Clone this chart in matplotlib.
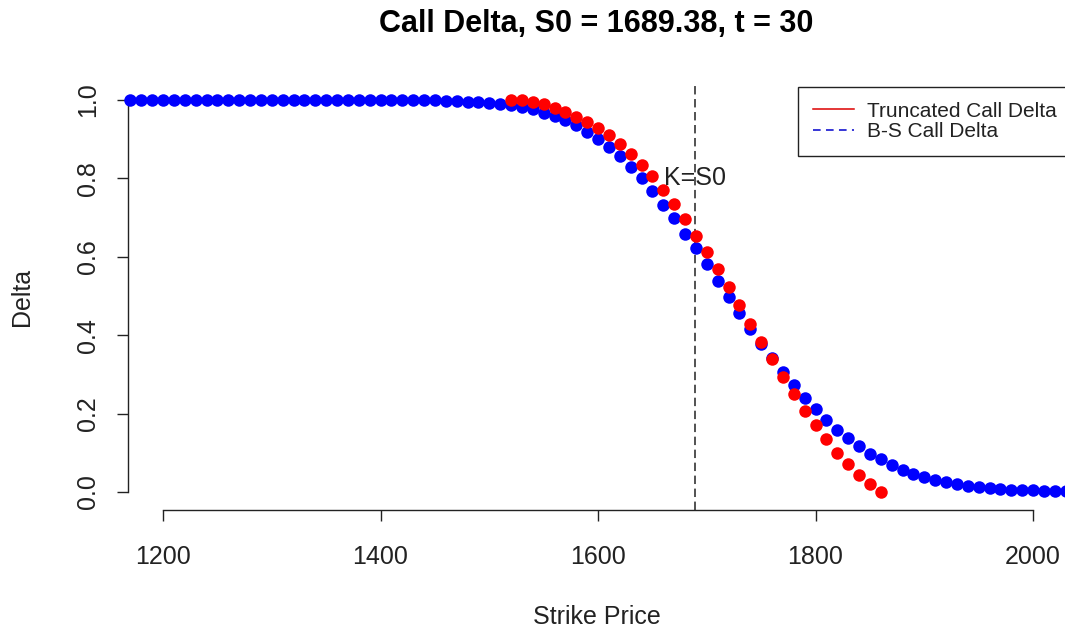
import matplotlib
matplotlib.use("Agg")
import matplotlib.pyplot as plt
from matplotlib.lines import Line2D

plt.rcParams['font.family'] = ['Liberation Sans', 'DejaVu Sans']

# ---- data ----
S0 = 1689.38
title = "Call Delta, S0 = 1689.38, t = 30"

bs_strikes = list(range(1170, 2031, 10))
bs_delta = [1.000] * 27 + [
    0.999, 0.999, 0.998, 0.997, 0.996, 0.995, 0.993, 0.990, 0.986, 0.982,
    0.976, 0.968, 0.959, 0.948, 0.935, 0.919, 0.901, 0.880, 0.856, 0.829,
    0.800, 0.769, 0.733, 0.698, 0.659, 0.622, 0.581, 0.539, 0.498, 0.457,
    0.416, 0.378, 0.341, 0.306, 0.273, 0.241, 0.211, 0.183, 0.158, 0.137,
    0.117, 0.097, 0.083, 0.068, 0.056, 0.047, 0.038, 0.031, 0.025, 0.020,
    0.016, 0.012, 0.010, 0.008, 0.006, 0.005, 0.004, 0.003, 0.002, 0.002,
]

tr_strikes = list(range(1520, 1861, 10))
tr_delta = [
    1.000, 0.999, 0.996, 0.989, 0.980, 0.969, 0.956, 0.943, 0.928, 0.910,
    0.887, 0.862, 0.835, 0.805, 0.770, 0.735, 0.696, 0.654, 0.613, 0.569,
    0.524, 0.476, 0.429, 0.382, 0.340, 0.294, 0.250, 0.207, 0.171, 0.134,
    0.100, 0.071, 0.043, 0.020, 0.000,
]

x_ticks = [1200, 1400, 1600, 1800, 2000]
y_ticks = [0.0, 0.2, 0.4, 0.6, 0.8, 1.0]
y_tick_labels = ["0.0", "0.2", "0.4", "0.6", "0.8", "1.0"]
legend_labels = ["Truncated Call Delta", "B-S Call Delta"]

# ---- figure ----
W, H = 1065, 632
fig = plt.figure(figsize=(W / 100, H / 100), dpi=100)
left_px, right_px, top_px, bot_px = 128, 1065, 84, 510
ax = fig.add_axes([left_px / W, 1 - bot_px / H,
                   (right_px - left_px) / W, (bot_px - top_px) / H])

ppu = 870 / 800.0
ax.set_xlim(1200 - (163 - left_px) / ppu, 1200 + (right_px - 163) / ppu)
ax.set_ylim(-18 / 392.0, 1 + 16 / 392.0)

ax.plot(bs_strikes, bs_delta, 'o', color='#0000ff', ms=9, mew=0, clip_on=False, zorder=3)
ax.plot(tr_strikes, tr_delta, 'o', color='#ff0000', ms=9, mew=0, clip_on=False, zorder=4)

ax.axvline(S0, color='#222222', lw=1.1, ls=(0, (5.5, 3)), zorder=2)
ax.text(S0, 0.8, "K=S0", ha='center', va='center', fontsize=18, color='#222222', zorder=5)

for s in ['top', 'right']:
    ax.spines[s].set_visible(False)
ax.spines['left'].set_bounds(0, 1)
ax.spines['bottom'].set_bounds(1200, 2000)
for s in ['left', 'bottom']:
    ax.spines[s].set_linewidth(1.0)
    ax.spines[s].set_color('#222222')

ax.set_xticks(x_ticks)
ax.set_xticklabels([str(v) for v in x_ticks])
ax.set_yticks(y_ticks)
ax.set_yticklabels(y_tick_labels, rotation=90, va='center')
ax.tick_params(axis='both', direction='out', length=8, width=1.0, color='#222222',
               labelsize=18, labelcolor='#222222')
ax.tick_params(axis='x', pad=17)
ax.tick_params(axis='y', pad=12)

ax.set_xlabel("Strike Price", fontsize=18, color='#222222', va='center')
ax.xaxis.set_label_coords(0.5, (bot_px - 617) / (bot_px - top_px))
ax.set_ylabel("Delta", fontsize=18, color='#222222', va='center')
ax.yaxis.set_label_coords((22 - left_px) / (right_px - left_px), (bot_px - 297) / (bot_px - top_px))

fig.text(596 / W, 1 - 24 / H, title, ha='center', va='center',
         fontsize=22, fontweight='bold', color='black')

handles = [Line2D([], [], color='#dd0000', lw=1.1, ls='-'),
           Line2D([], [], color='#0000cc', lw=1.1, ls=(0, (5, 3.5)))]
leg = ax.legend(handles, legend_labels, loc='upper left',
                bbox_to_anchor=(798 / W, 1 - 87 / H), bbox_transform=fig.transFigure,
                frameon=True, fancybox=False, framealpha=1, edgecolor='#222222',
                fontsize=15, borderpad=0.7, labelspacing=0.08, handlelength=2.0,
                handletextpad=0.6, borderaxespad=0)
leg.get_frame().set_linewidth(1.0)
for t in leg.get_texts():
    t.set_color('#222222')

fig.savefig("out.png", dpi=100)
